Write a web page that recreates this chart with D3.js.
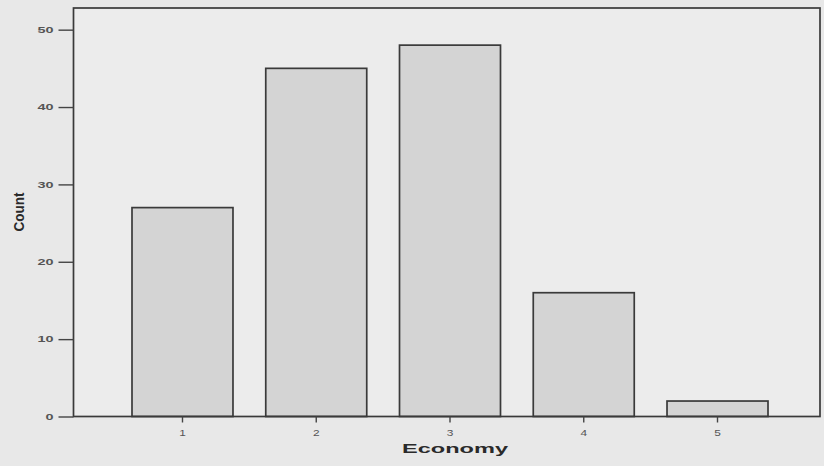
<!DOCTYPE html>
<html><head><meta charset="utf-8">
<script src="https://cdn.jsdelivr.net/npm/d3@7"></script>
<style>
html,body{margin:0;padding:0;background:#e8e8e8;}
svg{display:block;}
</style></head>
<body>
<svg id="c" width="824" height="466"></svg>
<script>
const categories = ["1","2","3","4","5"];
const counts = [27, 45, 48, 16, 2];
const yTicks = [0, 10, 20, 30, 40, 50];
const xTitle = "Economy";
const yTitle = "Count";

const W = 824, H = 466;
const frame = {left: 73.5, right: 820, top: 8, bottom: 416.5};
const svg = d3.select("#c");
svg.append("rect").attr("width", W).attr("height", H).attr("fill", "#e8e8e8");
svg.append("rect").attr("x", frame.left).attr("y", frame.top)
  .attr("width", frame.right - frame.left).attr("height", frame.bottom - frame.top)
  .attr("fill", "#ececec");

const x = d3.scaleBand().domain(categories).range([78.5, 821.5])
  .paddingInner(0.245).paddingOuter(0.4);
const y = d3.scaleLinear().domain([0, 52.8]).range([frame.bottom, frame.top]);

svg.append("g").selectAll("rect").data(counts).join("rect")
  .attr("x", (d, i) => x(categories[i]))
  .attr("y", d => y(d))
  .attr("width", x.bandwidth())
  .attr("height", d => y(0) - y(d))
  .attr("fill", "#d4d4d4")
  .attr("stroke", "#3a3a3a")
  .attr("stroke-width", 1.7);

// frame
svg.append("rect").attr("x", frame.left).attr("y", frame.top)
  .attr("width", frame.right - frame.left).attr("height", frame.bottom - frame.top)
  .attr("fill", "none").attr("stroke", "#3a3a3a").attr("stroke-width", 1.7);

function stretch(sel, k) {
  sel.each(function() {
    const w = this.getComputedTextLength();
    d3.select(this).attr("textLength", w * k).attr("lengthAdjust", "spacingAndGlyphs");
  });
}

// y axis
const gy = svg.append("g").attr("transform", `translate(${frame.left},0)`)
  .call(d3.axisLeft(y).tickValues(yTicks).tickSize(15).tickPadding(5).tickFormat(d3.format("d")));
gy.select(".domain").remove();
gy.selectAll(".tick line").attr("stroke", "#444").attr("stroke-width", 1.4);
gy.selectAll(".tick text").attr("fill", "#555").style("font-family", "'Liberation Sans', Arial, sans-serif")
  .style("font-size", "8.5px").style("font-weight", "bold");
stretch(gy.selectAll(".tick text"), 1.7);

// x axis
const gx = svg.append("g").attr("transform", `translate(0,${frame.bottom})`)
  .call(d3.axisBottom(x).tickSize(6).tickPadding(7));
gx.select(".domain").remove();
gx.selectAll(".tick line").attr("stroke", "#444").attr("stroke-width", 1.4);
gx.selectAll(".tick text").attr("fill", "#555").style("font-family", "'Liberation Sans', Arial, sans-serif")
  .style("font-size", "8.5px");
stretch(gx.selectAll(".tick text"), 1.4);

// titles
svg.append("text").attr("x", 455).attr("y", 453).attr("text-anchor", "middle")
  .attr("fill", "#2a2a2a").style("font-family", "'Liberation Sans', Arial, sans-serif")
  .style("font-size", "13.5px").style("font-weight", "bold").text(xTitle)
  .attr("textLength", 106).attr("lengthAdjust", "spacingAndGlyphs");

svg.append("text").attr("transform", "translate(23.5,212) rotate(-90)").attr("text-anchor", "middle")
  .attr("fill", "#2a2a2a").style("font-family", "'Liberation Sans', Arial, sans-serif")
  .style("font-size", "15px").style("font-weight", "bold").text(yTitle)
  .attr("textLength", 39).attr("lengthAdjust", "spacingAndGlyphs");
</script>
</body></html>
